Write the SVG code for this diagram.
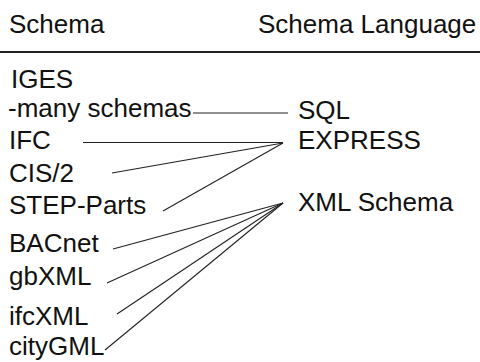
<svg xmlns="http://www.w3.org/2000/svg" width="480" height="362" viewBox="0 0 480 362">
<style>
text{font-family:"Liberation Sans",Arial,sans-serif;font-size:26px;fill:#111}
.c line{stroke:#222;stroke-width:1.1;fill:none}
</style>
<rect width="480" height="362" fill="#fff"/>
<g id="header">
<text x="9" y="33">Schema</text>
<text x="258" y="33">Schema Language</text>
<line x1="0" y1="52" x2="480" y2="52" stroke="#222" stroke-width="2"/>
</g>
<g id="iges"><text x="11" y="88">IGES</text></g>
<g id="many"><text x="8" y="117">-many schemas</text></g>
<g id="ifc"><text x="9" y="149">IFC</text></g>
<g id="cis2"><text x="9" y="182">CIS/2</text></g>
<g id="step"><text x="9" y="214">STEP-Parts</text></g>
<g id="bacnet"><text x="9" y="252">BACnet</text></g>
<g id="gbxml"><text x="9" y="285">gbXML</text></g>
<g id="ifcxml"><text x="9" y="325">ifcXML</text></g>
<g id="citygml"><text x="9" y="355">cityGML</text></g>
<g id="sql"><text x="298" y="119">SQL</text></g>
<g id="express"><text x="298" y="149">EXPRESS</text></g>
<g id="xmlschema"><text x="298" y="211">XML Schema</text></g>
<g id="connectors" class="c">
<line x1="193" y1="113" x2="288" y2="113"/>
<line x1="83" y1="142.5" x2="283" y2="142.5"/>
<line x1="112" y1="173" x2="283" y2="143"/>
<line x1="163" y1="211" x2="283" y2="143"/>
<line x1="113" y1="249" x2="283" y2="203"/>
<line x1="107" y1="283" x2="283" y2="203"/>
<line x1="117" y1="314" x2="283" y2="203"/>
<line x1="105" y1="350" x2="283" y2="203"/>
</g>
</svg>
